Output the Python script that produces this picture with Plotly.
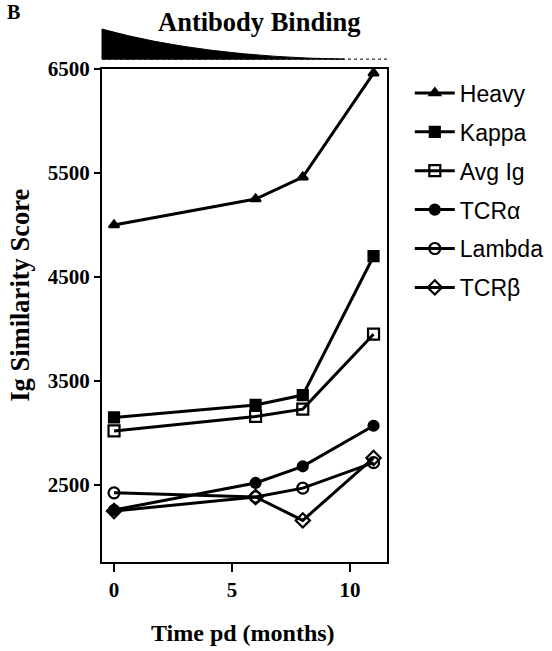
import plotly.graph_objects as go

months = [0, 6, 8, 11]
series_names = ["Heavy", "Kappa", "Avg Ig", "TCRα", "Lambda", "TCRβ"]
heavy = [5000, 5250, 5460, 6460]
kappa = [3150, 3270, 3365, 4700]
avg_ig = [3020, 3160, 3230, 3950]
tcr_alpha = [2260, 2520, 2680, 3070]
lambda_ = [2425, 2385, 2470, 2715]
tcr_beta = [2250, 2385, 2160, 2760]
series_values = [heavy, kappa, avg_ig, tcr_alpha, lambda_, tcr_beta]
symbols = ["triangle-up", "square", "square-open", "circle", "circle-open", "diamond-open"]
sizes = [9, 10, 11, 10, 11, 11]
x_ticks = [0, 5, 10]
y_ticks = [2500, 3500, 4500, 5500, 6500]

fig = go.Figure()
for name, vals, sym, sz in zip(series_names, series_values, symbols, sizes):
    fig.add_trace(go.Scatter(
        x=months, y=vals, name=name, mode="lines+markers", legendgroup=name,
        line=dict(color="black", width=3),
        marker=dict(symbol=sym, size=sz, color="black",
                    line=dict(color="black", width=2.2)),
    ))

serif = "Liberation Serif"
fig.update_layout(
    width=552, height=651,
    margin=dict(l=102, r=165, t=69, b=89, autoexpand=False),
    plot_bgcolor="white", paper_bgcolor="white",
    showlegend=True,
    legend=dict(x=1.08, y=0.995, xanchor="left", yanchor="top",
                font=dict(family="Liberation Sans", size=23, color="black"),
                itemwidth=40, tracegroupgap=6, bgcolor="rgba(0,0,0,0)"),
    xaxis=dict(range=[-0.51, 11.57], tickvals=x_ticks, ticks="outside", ticklen=8,
               tickwidth=2, tickcolor="black", showline=True, linecolor="black",
               linewidth=2, mirror=True, showgrid=False, zeroline=False,
               tickfont=dict(family=serif, size=21, color="black", weight="bold")),
    yaxis=dict(range=[1760, 6500], tickvals=y_ticks, ticks="outside", ticklen=6,
               tickwidth=2, tickcolor="black", showline=True, linecolor="black",
               linewidth=2, mirror=True, showgrid=False, zeroline=False,
               tickfont=dict(family=serif, size=21, color="black", weight="bold")),
)

# wedge indicating antibody binding
fig.add_shape(type="path", xref="paper", yref="paper",
              path="M 0,1.02 L 0,1.081 Q 0.35,1.025 0.85,1.02 Z",
              fillcolor="black", line=dict(color="black", width=1))
fig.add_shape(type="line", xref="paper", yref="paper", x0=0, x1=1, y0=1.02, y1=1.02,
              line=dict(color="black", width=1, dash="dot"))

fig.add_annotation(text="<b>Antibody Binding</b>", xref="paper", yref="paper",
                   x=0.554, y=1.095, showarrow=False, xanchor="center", yanchor="middle",
                   font=dict(family=serif, size=26.5, color="black"))
fig.add_annotation(text="<b>B</b>", xref="paper", yref="paper",
                   x=-0.309, y=1.115, showarrow=False, xanchor="center", yanchor="middle",
                   font=dict(family=serif, size=20, color="black"))
fig.add_annotation(text="<b>Ig Similarity Score</b>", xref="paper", yref="paper",
                   x=-0.288, y=0.542, showarrow=False, textangle=-90,
                   xanchor="center", yanchor="middle",
                   font=dict(family=serif, size=26.5, color="black"))
fig.add_annotation(text="<b>Time pd (months)</b>", xref="paper", yref="paper",
                   x=0.495, y=-0.144, showarrow=False, xanchor="center", yanchor="middle",
                   font=dict(family=serif, size=24, color="black"))

fig.write_html("out.html", config={"displayModeBar": False},
               post_script="document.body.style.margin='0px';")
